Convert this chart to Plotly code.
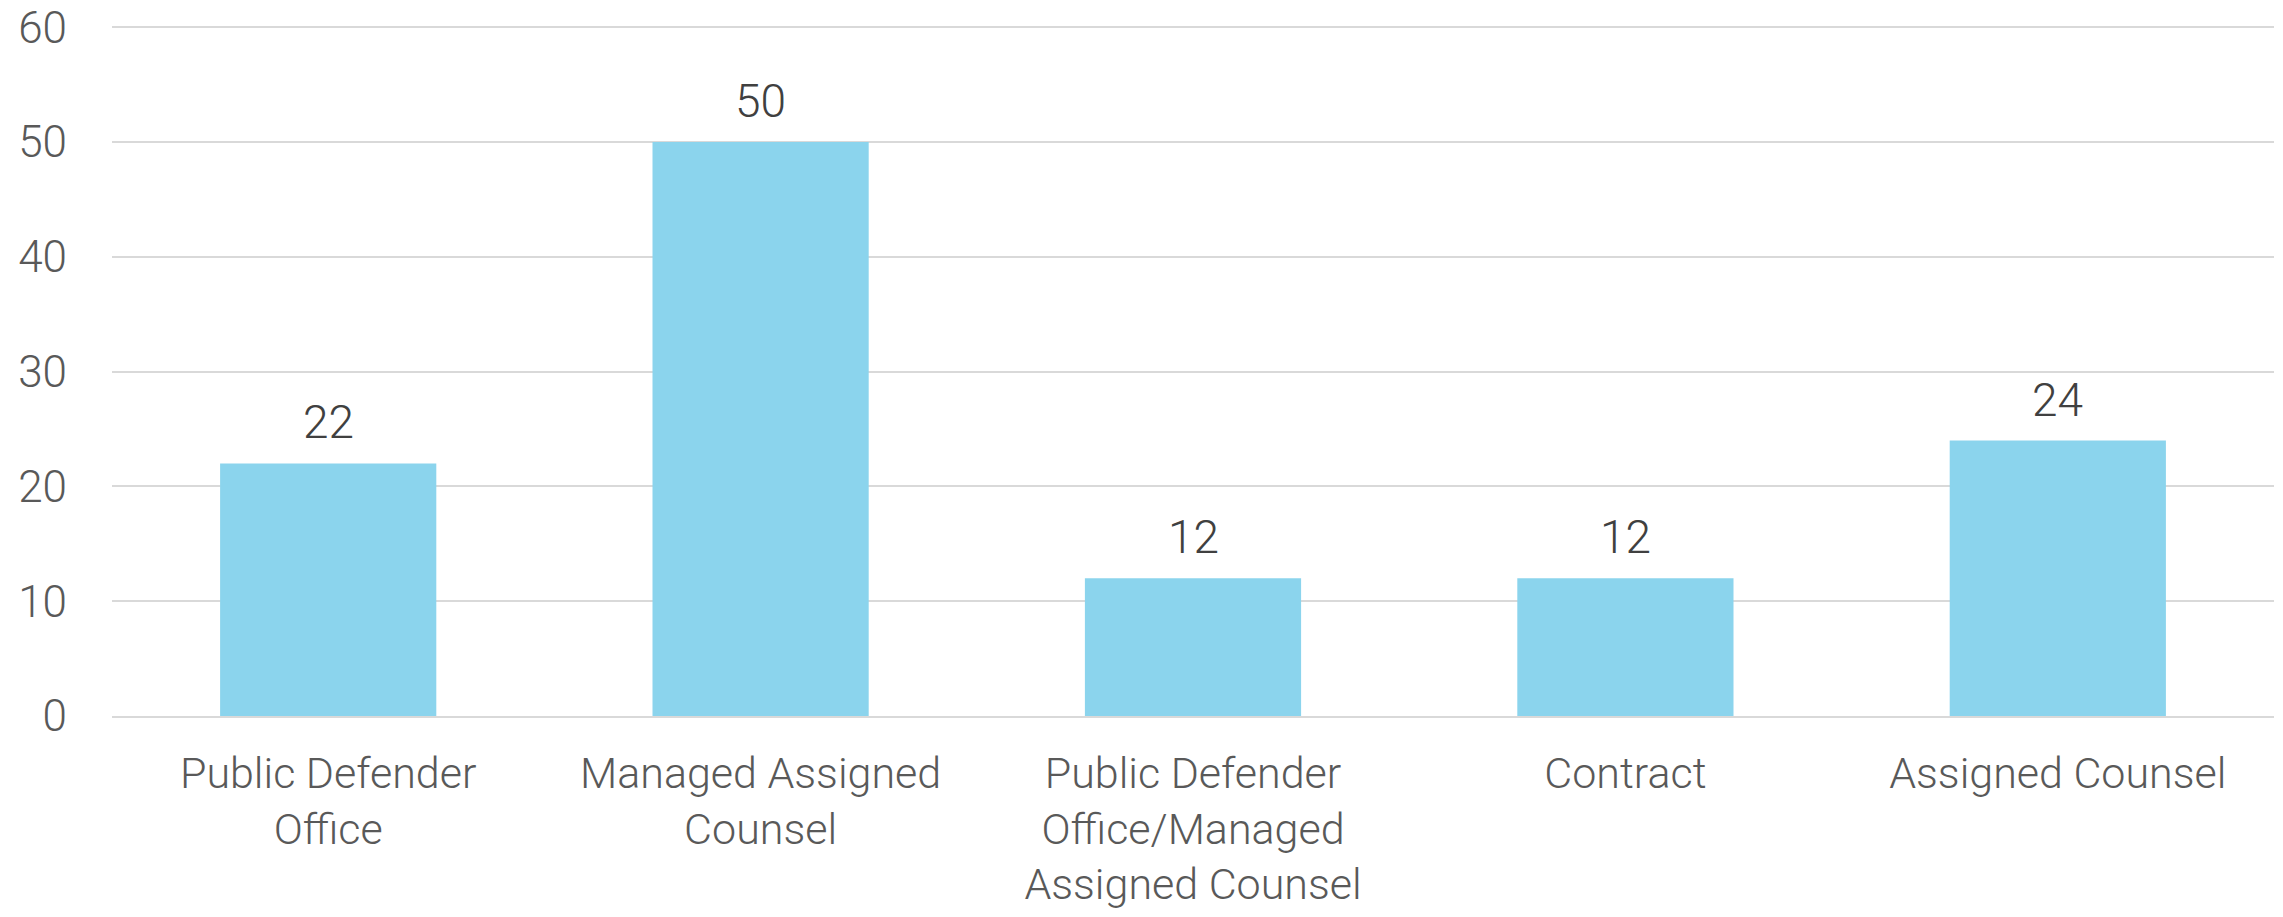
import plotly.graph_objects as go

categories = ["Public Defender<br>Office", "Managed Assigned<br>Counsel",
              "Public Defender<br>Office/Managed<br>Assigned Counsel", "Contract", "Assigned Counsel"]
values = [22, 50, 12, 12, 24]
y_ticks = [0, 10, 20, 30, 40, 50, 60]

FONT = "Roboto"
fig = go.Figure()
fig.add_trace(go.Bar(x=categories, y=values, marker=dict(color="#8bd4ed", line=dict(width=0)),
                     hoverinfo="skip"))

for c, v in zip(categories, values):
    fig.add_annotation(x=c, y=v, text=str(v), showarrow=False, yanchor="bottom", yshift=12,
                       font=dict(family=FONT, size=46, color="#404040", weight=300))

fig.update_layout(
    width=2283, height=917,
    margin=dict(l=112, r=9, t=25, b=201, autoexpand=False),
    paper_bgcolor="white", plot_bgcolor="white",
    bargap=0.5, showlegend=False,
    font=dict(family=FONT, size=43, color="#595959", weight=300),
)
fig.update_xaxes(showline=True, linecolor="#d9d9d9", linewidth=2, ticks="", showgrid=False,
                 automargin=False,
                 tickfont=dict(family=FONT, size=43, color="#595959", weight=300), ticklabelstandoff=18)
fig.update_yaxes(range=[0, 60.2], tickvals=y_ticks, showgrid=True, gridcolor="#d9d9d9", gridwidth=2,
                 zeroline=False, showline=False, ticks="", automargin=False, ticklabeloverflow="allow",
                 tickfont=dict(family=FONT, size=44, color="#595959", weight=300), ticklabelstandoff=44)

fig.write_html("out.html", config={"displayModeBar": False},
               post_script="document.body.style.margin='0';")
